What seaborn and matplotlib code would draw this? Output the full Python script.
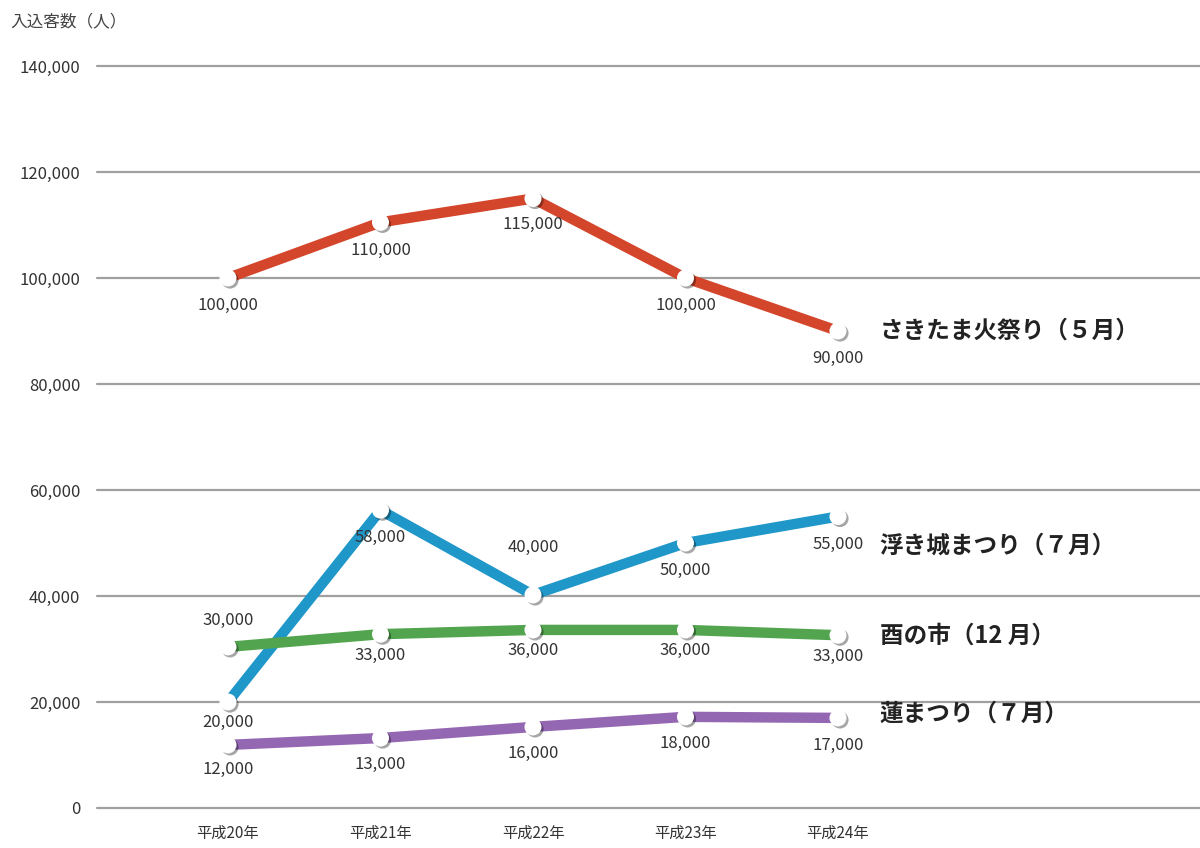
import matplotlib
matplotlib.use("Agg")
import matplotlib.pyplot as plt
import matplotlib.patheffects as pe
from matplotlib.ticker import FuncFormatter
import seaborn as sns
import pandas as pd

# ---- data ----
years = ["平成20年", "平成21年", "平成22年", "平成23年", "平成24年"]
series_names = ["さきたま火祭り（５月）", "浮き城まつり（７月）", "酉の市（12 月）", "蓮まつり（７月）"]
sakitama = [100000, 110500, 115000, 100000, 90000]
ukishiro = [20000, 56200, 40200, 50000, 55000]
torinoichi = [30400, 32800, 33600, 33600, 32600]
hasu = [11900, 13200, 15300, 17200, 17000]
sakitama_labels = ["100,000", "110,000", "115,000", "100,000", "90,000"]
ukishiro_labels = ["20,000", "58,000", "40,000", "50,000", "55,000"]
torinoichi_labels = ["30,000", "33,000", "36,000", "36,000", "33,000"]
hasu_labels = ["12,000", "13,000", "16,000", "18,000", "17,000"]
y_ticks = [0, 20000, 40000, 60000, 80000, 100000, 120000, 140000]
y_title = "入込客数（人）"

values = [sakitama, ukishiro, torinoichi, hasu]
labels = [sakitama_labels, ukishiro_labels, torinoichi_labels, hasu_labels]
colors = ["#D4462B", "#1F97C9", "#52A54E", "#9467B3"]

rows = []
for name, vals in zip(series_names, values):
    for yr, v in zip(years, vals):
        rows.append({"year": yr, "value": v, "series": name})
df = pd.DataFrame(rows)

# label offsets in points (dy), per series/point
label_dy = [
    [-20, -20, -19, -20, -20],
    [-15, -20, 34, -20, -20],
    [19, -15, -15, -15, -15],
    [-18, -19, -19, -19, -20],
]
name_dy = [0, -21, 0, 3]

sns.set_theme(style="white")
plt.rcParams["font.family"] = ["Noto Sans CJK JP", "DejaVu Sans"]

fig = plt.figure(figsize=(12, 8.48), dpi=100)
ax = fig.add_axes([97 / 1200, 40 / 848, 1103 / 1200, 742 / 848])

for yv in y_ticks:
    ax.axhline(yv, color="#a0a0a0", lw=1.6, zorder=0, clip_on=False)

sns.lineplot(
    data=df, x="year", y="value", hue="series", palette=colors,
    hue_order=series_names, sort=False, ax=ax, legend=False,
    lw=7.5, zorder=3,
)
sns.scatterplot(
    data=df, x="year", y="value", color="white", s=150, linewidth=0,
    ax=ax, legend=False, zorder=4,
)
for coll in ax.collections:
    coll.set_path_effects([pe.SimplePatchShadow(offset=(1.5, -1.5), alpha=0.35, shadow_rgbFace="black"), pe.Normal()])

for si, (vals, labs) in enumerate(zip(values, labels)):
    for i, (v, lab) in enumerate(zip(vals, labs)):
        ax.annotate(lab, (i, v), xytext=(0, label_dy[si][i]), textcoords="offset points",
                    ha="center", va="center", fontsize=12, color="#333333", zorder=5)
    ax.annotate(series_names[si], (len(years) - 1, vals[-1]), xytext=(30, name_dy[si]),
                textcoords="offset points", ha="left", va="center", fontsize=17,
                fontweight="bold", color="#222222", zorder=5)

ax.set_xlim(-0.859, 6.374)
ax.set_ylim(0, 140000)
ax.set_yticks(y_ticks)
ax.yaxis.set_major_formatter(FuncFormatter(lambda v, p: f"{int(v):,}"))
ax.tick_params(axis="y", length=0, pad=12, labelsize=12, labelcolor="#333333")
ax.tick_params(axis="x", length=0, pad=12, labelsize=11, labelcolor="#333333")
ax.set_xlabel("")
ax.set_ylabel("")
for s in ax.spines.values():
    s.set_visible(False)

fig.text(10 / 1200, 1 - 22 / 848, y_title, fontsize=12, color="#444444", ha="left", va="center")

fig.savefig("out.png", dpi=100, facecolor="white")
